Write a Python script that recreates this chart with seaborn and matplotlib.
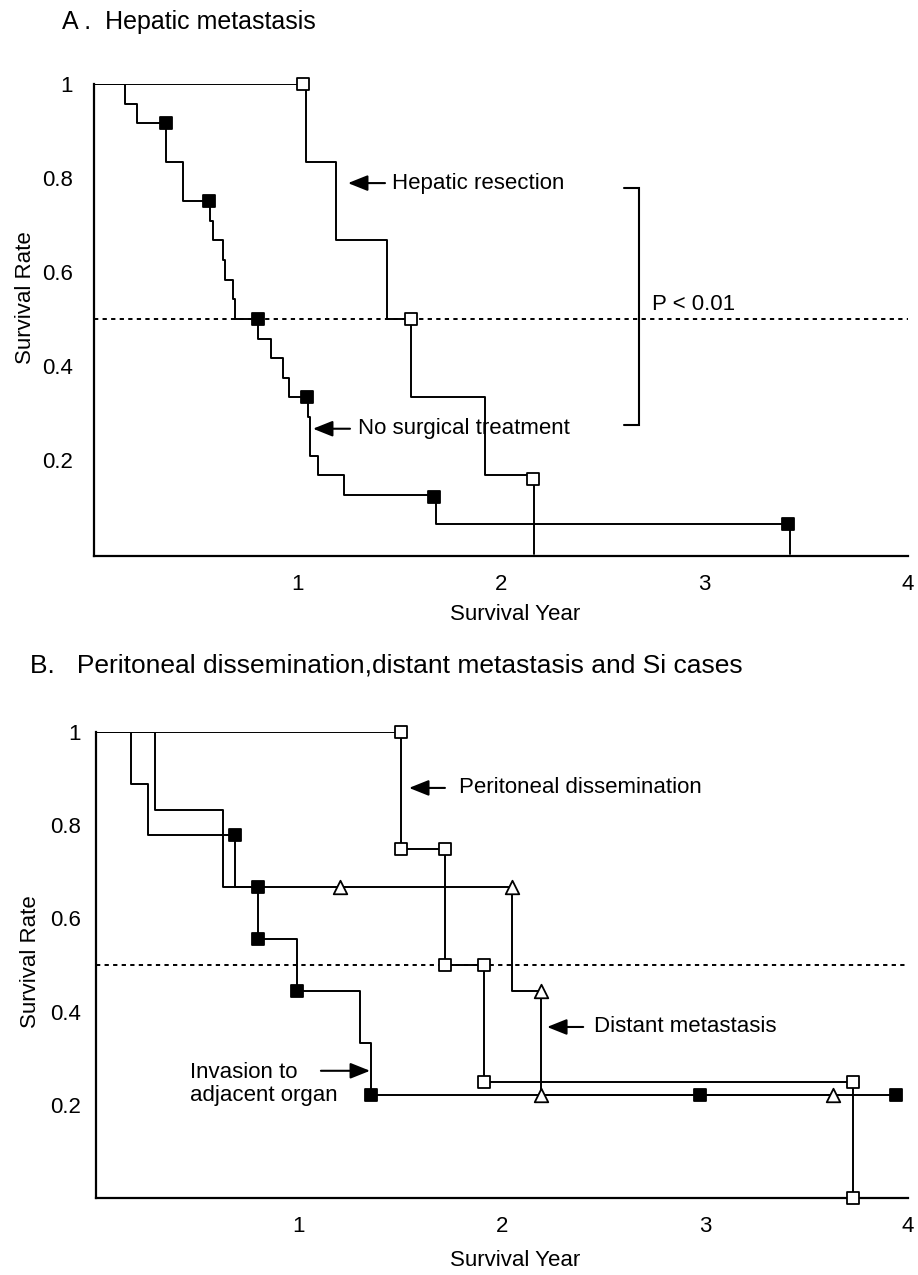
import numpy as np
import pandas as pd
import matplotlib
matplotlib.use("Agg")
import matplotlib.pyplot as plt
import seaborn as sns

# ---------------- data ----------------
# Panel A : Hepatic metastasis
resect_t = [0, 1.04, 1.19, 1.44, 1.56, 1.92, 2.16]
resect_s = [1, 0.833, 0.667, 0.5, 0.333, 0.167, 0]
resect_mark_t = [1.026, 1.56, 2.155]
resect_mark_s = [1.0, 0.5, 0.16]

nosurg_t = [0, 0.152, 0.209, 0.353, 0.438, 0.572, 0.585, 0.634, 0.642, 0.683, 0.695,
            0.805, 0.871, 0.931, 0.957, 1.05, 1.062, 1.10, 1.23, 1.68, 3.42]
nosurg_s = [1, 0.958, 0.917, 0.833, 0.75, 0.708, 0.667, 0.625, 0.583, 0.542, 0.5,
            0.458, 0.417, 0.375, 0.333, 0.292, 0.208, 0.167, 0.125, 0.0625, 0]
nosurg_mark_t = [0.353, 0.564, 0.805, 1.046, 1.67, 3.41]
nosurg_mark_s = [0.917, 0.75, 0.5, 0.333, 0.12, 0.0625]

# Panel B : Peritoneal dissemination, distant metastasis and Si cases
perit_t = [0, 1.50, 1.72, 1.91, 3.73]
perit_s = [1, 0.75, 0.5, 0.25, 0]
perit_mark_t = [1.50, 1.50, 1.72, 1.72, 1.91, 1.91, 3.73, 3.73]
perit_mark_s = [1.0, 0.75, 0.75, 0.5, 0.5, 0.25, 0.25, 0.0]

invas_t = [0, 0.171, 0.255, 0.685, 0.80, 0.988, 1.30, 1.357, 3.94]
invas_s = [1, 0.889, 0.778, 0.667, 0.556, 0.444, 0.333, 0.222, 0.222]
invas_mark_t = [0.685, 0.80, 0.80, 0.988, 1.357, 2.975, 3.94]
invas_mark_s = [0.778, 0.667, 0.556, 0.444, 0.222, 0.222, 0.222]

distant_t = [0, 0.29, 0.624, 2.05, 2.19, 3.63]
distant_s = [1, 0.833, 0.667, 0.444, 0.222, 0.222]
distant_mark_t = [1.20, 2.05, 2.19, 2.19, 3.63]
distant_mark_s = [0.667, 0.667, 0.444, 0.222, 0.222]

x_ticks = [1, 2, 3, 4]
x_ticklabels = ["1", "2", "3", "4"]
y_ticks = [0.2, 0.4, 0.6, 0.8, 1.0]
y_ticklabels = ["0.2", "0.4", "0.6", "0.8", "1"]

# ---------------- style ----------------
sns.set_style("white")
plt.rcParams["font.family"] = ["Liberation Sans", "DejaVu Sans"]
plt.rcParams["text.color"] = "black"
plt.rcParams["axes.labelcolor"] = "black"
plt.rcParams["xtick.color"] = "black"
plt.rcParams["ytick.color"] = "black"
FS = 16

W, H = 918, 1275
fig = plt.figure(figsize=(W / 100, H / 100), dpi=100)


def px_ax(left, right, top, bottom):
    return [left / W, 1 - bottom / H, (right - left) / W, (bottom - top) / H]


axA = fig.add_axes(px_ax(94, 908, 84, 556))
axB = fig.add_axes(px_ax(96, 908, 732, 1198))


def step(ax, t, s):
    sns.lineplot(x=t, y=s, ax=ax, estimator=None, sort=False,
                 drawstyle="steps-post", color="black", linewidth=1.4, zorder=2)


def marks(ax, t, s, marker, filled, size):
    sns.scatterplot(x=t, y=s, ax=ax, marker=marker, s=size,
                    color="black" if filled else "white",
                    edgecolor="black", linewidth=1.3, zorder=4, clip_on=False)


def style_axis(ax, ypad):
    ax.set_xlim(0, 4)
    ax.set_ylim(-0.005, 1.0)
    ax.set_xticks(x_ticks)
    ax.set_xticklabels(x_ticklabels)
    ax.set_yticks(y_ticks)
    ax.set_yticklabels(y_ticklabels)
    ax.tick_params(axis="both", direction="in", length=7, width=1.2,
                   labelsize=FS, color="black", labelcolor="black")
    ax.tick_params(axis="y", pad=ypad)
    ax.tick_params(axis="x", pad=13)
    for sp in ["top", "right"]:
        ax.spines[sp].set_visible(False)
    for sp in ["left", "bottom"]:
        ax.spines[sp].set_color("black")
        ax.spines[sp].set_linewidth(1.6)
    ax.axhline(0.5, color="black", linestyle=(0, (2.2, 2.2)), linewidth=1.4, zorder=1)
    ax.set_xlabel("")
    ax.set_ylabel("")
    ax.patch.set_alpha(0)


# ---- Panel A ----
step(axA, resect_t, resect_s)
step(axA, nosurg_t, nosurg_s)
marks(axA, resect_mark_t, resect_mark_s, "s", False, 70)
marks(axA, nosurg_mark_t, nosurg_mark_s, "s", True, 80)
style_axis(axA, 15)

arrow = dict(arrowstyle="-|>,head_length=0.75,head_width=0.3", color="black",
             lw=1.5, shrinkA=0, shrinkB=0, mutation_scale=16)
axA.annotate("", xy=(1.248, 0.789), xytext=(1.43, 0.789), arrowprops=arrow)
axA.text(1.464, 0.789, "Hepatic resection", fontsize=FS, va="center", ha="left")
axA.annotate("", xy=(1.076, 0.266), xytext=(1.258, 0.266), arrowprops=arrow)
axA.text(1.297, 0.266, "No surgical treatment", fontsize=FS, va="center", ha="left")
# bracket for P value
axA.plot([2.604, 2.678, 2.678, 2.604], [0.779, 0.779, 0.274, 0.274],
         color="black", linewidth=1.5, solid_joinstyle="miter")
axA.text(2.742, 0.53, "P < 0.01", fontsize=FS, va="center", ha="left")

# ---- Panel B ----
step(axB, perit_t, perit_s)
step(axB, invas_t, invas_s)
step(axB, distant_t, distant_s)
marks(axB, perit_mark_t, perit_mark_s, "s", False, 70)
marks(axB, invas_mark_t, invas_mark_s, "s", True, 80)
marks(axB, distant_mark_t, distant_mark_s, "^", False, 95)
style_axis(axB, 11)
axB.set_ylim(0, 1.0)

axB.annotate("", xy=(1.542, 0.880), xytext=(1.719, 0.880), arrowprops=arrow)
axB.text(1.788, 0.880, "Peritoneal dissemination", fontsize=FS, va="center", ha="left")
axB.annotate("", xy=(2.222, 0.367), xytext=(2.40, 0.367), arrowprops=arrow)
axB.text(2.453, 0.367, "Distant metastasis", fontsize=FS, va="center", ha="left")
axB.annotate("", xy=(1.350, 0.273), xytext=(1.108, 0.273), arrowprops=arrow)
axB.text(0.463, 0.244, "Invasion to\nadjacent organ", fontsize=FS, va="center",
         ha="left", linespacing=1.15)

# ---- titles and axis labels ----
fig.text(62 / W, 1 - 22 / H, "A .  Hepatic metastasis", fontsize=18, va="center", ha="left")
fig.text(30 / W, 1 - 665 / H, "B.   Peritoneal dissemination,distant metastasis and Si cases",
         fontsize=19, va="center", ha="left")
fig.text(26 / W, 1 - 298 / H, "Survival Rate", fontsize=FS, rotation=90, va="center", ha="center")
fig.text(30 / W, 1 - 962 / H, "Survival Rate", fontsize=FS, rotation=90, va="center", ha="center")
fig.text(515 / W, 1 - 614 / H, "Survival Year", fontsize=FS, va="center", ha="center")
fig.text(515 / W, 1 - 1260 / H, "Survival Year", fontsize=FS, va="center", ha="center")

fig.savefig("out.png", dpi=100, facecolor="white")
